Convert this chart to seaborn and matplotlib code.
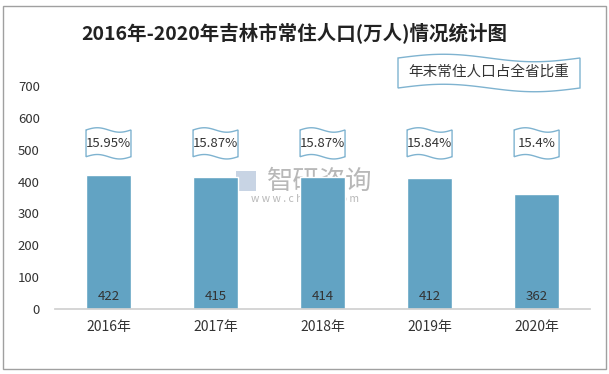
import numpy as np
import matplotlib
matplotlib.use("Agg")
import matplotlib.pyplot as plt
import seaborn as sns
import pandas as pd
from matplotlib.path import Path
from matplotlib.patches import PathPatch, Rectangle

years = ["2016年", "2017年", "2018年", "2019年", "2020年"]
population = [422, 415, 414, 412, 362]
shares = ["15.95%", "15.87%", "15.87%", "15.84%", "15.4%"]
title = "2016年-2020年吉林市常住人口(万人)情况统计图"
legend_label = "年末常住人口占全省比重"

sns.set_theme(style="white")
plt.rcParams['font.family'] = ['Noto Sans CJK SC', 'DejaVu Sans']

df = pd.DataFrame({"year": years, "pop": population})

fig = plt.figure(figsize=(6.09, 3.74), dpi=100)
ax = fig.add_axes([0.0903, 0.1738, 0.8787, 0.5962])
sns.barplot(data=df, x="year", y="pop", color="#62A3C3", width=0.42,
            saturation=1, ax=ax, zorder=2)
ax.set_ylim(0, 700)
ax.set_xlim(-0.5, 4.5)
ax.set_yticks(range(0, 701, 100))
ax.set_xlabel("")
ax.set_ylabel("")
for s in ["top", "right", "left"]:
    ax.spines[s].set_visible(False)
ax.spines["bottom"].set_color("#D0D0D0")
ax.tick_params(axis="both", length=0, colors="#333333")
ax.tick_params(axis="x", pad=8, labelsize=10)
ax.tick_params(axis="y", pad=11, labelsize=9.5)

# value labels
for i, v in enumerate(population):
    ax.text(i, 40, str(v), ha="center", va="center", fontsize=9.5,
            color="#333333", zorder=4)

def wave_path(x0, x1, y0, y1, amp, n=60):
    t = np.linspace(0, 1, n)
    xs = x0 + (x1 - x0) * t
    top = y1 + amp * np.sin(2 * np.pi * t)
    bot = y0 + amp * np.sin(2 * np.pi * t)
    verts = list(zip(xs, top)) + list(zip(xs[::-1], bot[::-1])) + [(xs[0], top[0])]
    codes = [Path.MOVETO] + [Path.LINETO] * (len(verts) - 2) + [Path.CLOSEPOLY]
    return Path(verts, codes)

# share flags
for i, s in enumerate(shares):
    p = wave_path(i - 0.21, i + 0.21, 478, 562, 7)
    ax.add_patch(PathPatch(p, facecolor="white", edgecolor="#7FB3D0", lw=1.0,
                           clip_on=False, zorder=3))
    ax.text(i, 520, s, ha="center", va="center", fontsize=9.5, color="#333333",
            zorder=4)

# legend flag in figure coordinates
lp = wave_path(398 / 609, 580 / 609, 1 - 88 / 374, 1 - 58 / 374, 0.01)
fig.patches.append(PathPatch(lp, facecolor="white", edgecolor="#7FB3D0", lw=1.0,
                             transform=fig.transFigure, zorder=3))
fig.text(489 / 609, 1 - 72 / 374, legend_label, ha="center", va="center",
         fontsize=10.5, color="#333333", zorder=4)

# title
fig.text(294 / 609, 1 - 33 / 374, title, ha="center", va="center",
         fontsize=14, fontweight="bold", color="#222222")

# watermark (behind bars)
ax.text(320 / 609, 1 - 181 / 374, "智研咨询", ha="center", va="center",
        fontsize=19, color="#B8B8B8", transform=fig.transFigure, zorder=1)
ax.text(305 / 609, 1 - 199 / 374, "w w w . c h y x x . c o m", ha="center",
        va="center", fontsize=7.5, color="#B8B8B8", transform=fig.transFigure,
        zorder=1)
ax.add_patch(Rectangle((236 / 609, 1 - 191 / 374), 20 / 609, 20 / 374,
                       transform=fig.transFigure, facecolor="#C8D4E4",
                       edgecolor="none", zorder=1, clip_on=False))

# outer border
fig.patches.append(Rectangle((3 / 609, 5 / 374), 603 / 609, 363 / 374,
                             transform=fig.transFigure, fill=False,
                             edgecolor="#A0A0A0", lw=1.0))

fig.savefig("out.png", dpi=100)
